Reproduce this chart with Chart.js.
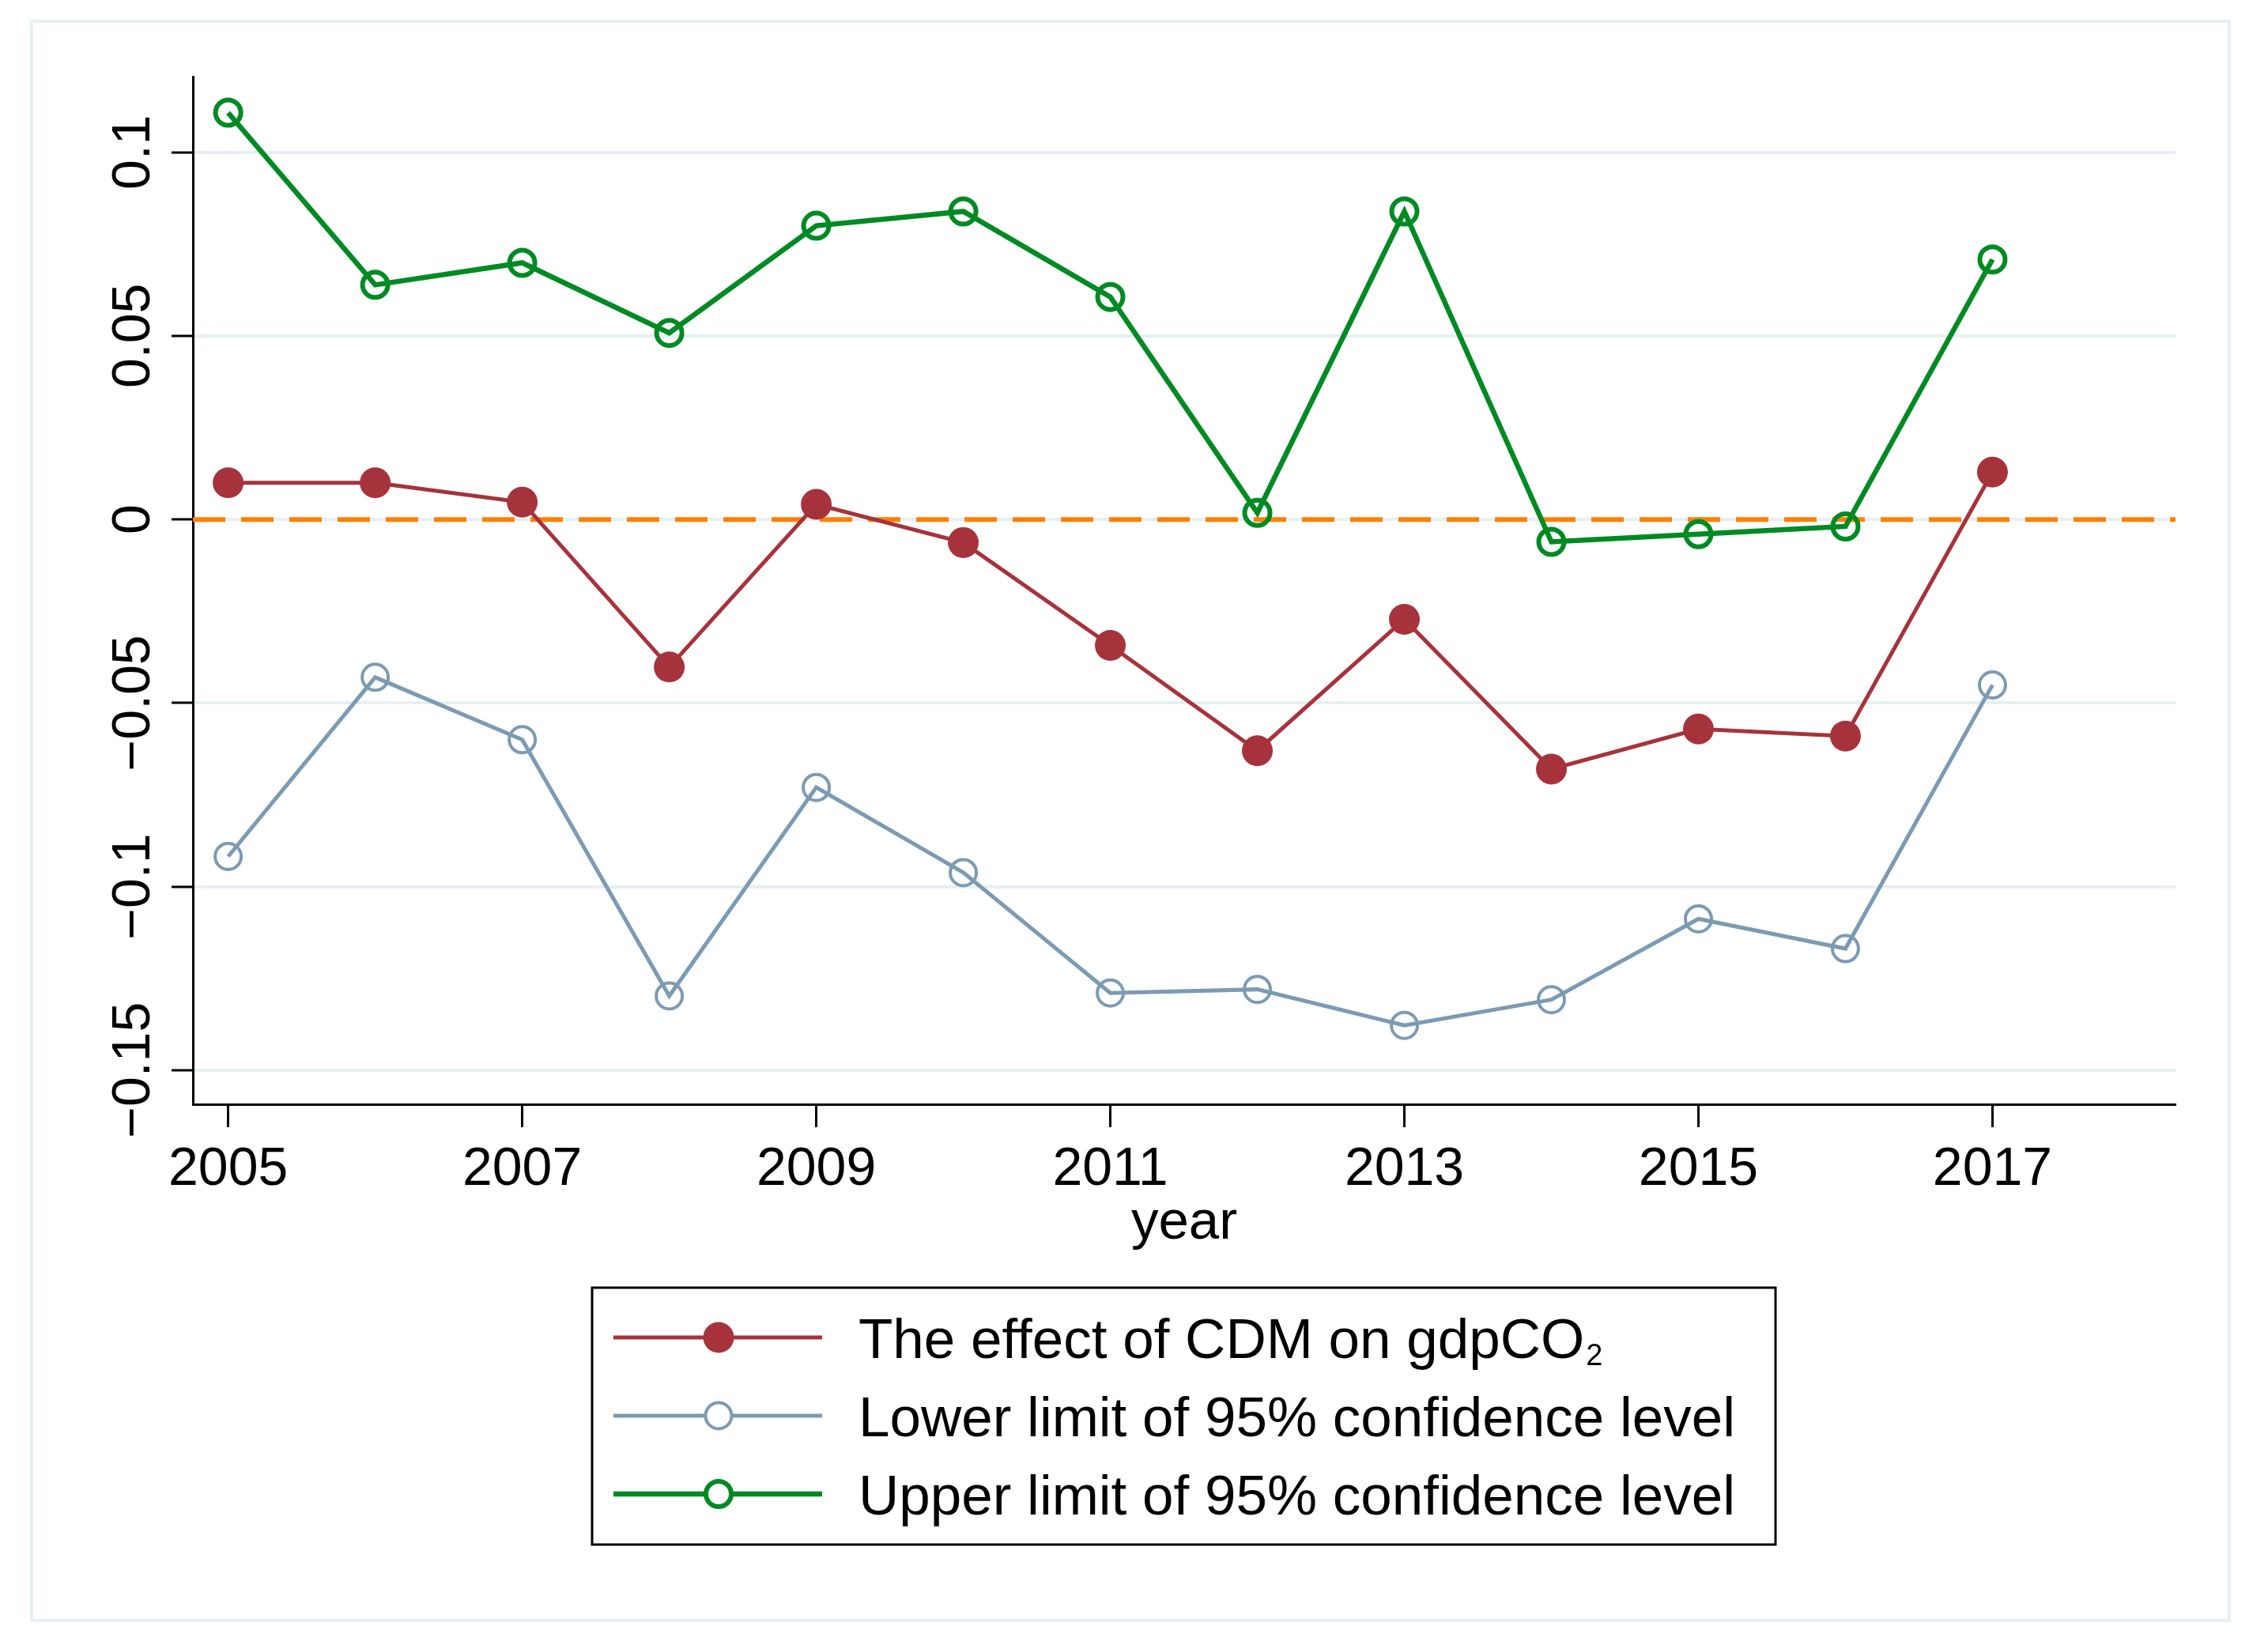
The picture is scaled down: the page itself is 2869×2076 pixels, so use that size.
<!DOCTYPE html>
<html><head><meta charset="utf-8">
<script src="https://cdn.jsdelivr.net/npm/chart.js@4.4.1/dist/chart.umd.min.js"></script>
<style>html,body{margin:0;padding:0;background:#fff;}canvas{display:block;}</style>
</head><body>
<canvas id="c" width="2869" height="2076"></canvas>
<script>
const years = [2005,2006,2007,2008,2009,2010,2011,2012,2013,2014,2015,2016,2017];
const effect = [0.0100,0.0100,0.0047,-0.0402,0.0041,-0.0063,-0.0343,-0.0630,-0.0272,-0.0680,-0.0571,-0.0590,0.0129];
const lower  = [-0.0918,-0.0430,-0.0600,-0.1298,-0.0730,-0.0962,-0.1290,-0.1280,-0.1378,-0.1308,-0.1088,-0.1169,-0.0451];
const upper  = [0.1108,0.0639,0.0699,0.0508,0.0800,0.0839,0.0606,0.0018,0.0839,-0.0061,-0.0040,-0.0019,0.0708];
const xTicks = [2005,2007,2009,2011,2013,2015,2017];
const yTicks = [-0.15,-0.1,-0.05,0,0.05,0.1];
const yTickLabels = ['\u22120.15','\u22120.1','\u22120.05','0','0.05','0.1'];
const xRange = [2004.76, 2018.245];
const yRange = [-0.1593, 0.1206];
const refValue = 0;
const seriesLabels = ['The effect of CDM on gdpCO\u2082','Lower limit of 95% confidence level','Upper limit of 95% confidence level'];
const xTitle = 'year';

const FONT = '"Liberation Sans", Arial, sans-serif';
const pts = arr => years.map((y,i)=>({x:y, y:arr[i]}));

const decor = {
  id:'decor',
  beforeDraw(chart){
    const ctx = chart.ctx;
    ctx.save();
    ctx.fillStyle='#fff';
    ctx.fillRect(0,0,chart.width,chart.height);
    ctx.strokeStyle='#e6eff2';
    ctx.lineWidth=4;
    ctx.strokeRect(40,27,2780,2023);
    ctx.restore();
  },
  afterDraw(chart){
    const ctx = chart.ctx;
    const ys = chart.scales.y;
    ctx.save();
    ctx.fillStyle='#000';
    ctx.font = '68px '+FONT;
    ctx.textAlign='center';
    ctx.textBaseline='alphabetic';
    yTicks.forEach((v,i)=>{
      const py = ys.getPixelForValue(v);
      ctx.save();
      ctx.translate(189, py);
      ctx.rotate(-Math.PI/2);
      ctx.fillText(yTickLabels[i],0,0);
      ctx.restore();
    });
    // legend
    ctx.strokeStyle='#000';
    ctx.lineWidth=3;
    ctx.strokeRect(749,1629,1497,325);
    for(let i=0;i<3;i++){
      const ds = chart.data.datasets[i];
      const ry = 1692 + i*99;
      ctx.strokeStyle = ds.borderColor;
      ctx.lineWidth = ds.borderWidth;
      ctx.beginPath(); ctx.moveTo(776,ry); ctx.lineTo(1040,ry); ctx.stroke();
      ctx.beginPath(); ctx.arc(909,ry,ds.pointRadius,0,Math.PI*2);
      if(ds.pointBorderWidth>0){
        ctx.fillStyle='#fff'; ctx.fill();
        ctx.lineWidth=ds.pointBorderWidth; ctx.strokeStyle=ds.pointBorderColor; ctx.stroke();
      } else {
        ctx.fillStyle=ds.pointBackgroundColor; ctx.fill();
      }
      let label = ds.label;
      ctx.fillStyle='#000';
      ctx.textAlign='left';
      ctx.font='71px '+FONT;
      if(label.endsWith('\u2082')){
        const main = label.slice(0,-1);
        ctx.fillText(main,1086,ry+26);
        const w = ctx.measureText(main).width;
        ctx.font='38px '+FONT;
        ctx.fillText('2',1086+w+2,ry+35);
      } else {
        ctx.fillText(label,1086,ry+26);
      }
    }
    ctx.restore();
  }
};

new Chart(document.getElementById('c'),{
  type:'line',
  data:{datasets:[
    {label:seriesLabels[0], data:pts(effect), borderColor:'#a6333b', backgroundColor:'#a6333b',
     pointBackgroundColor:'#a6333b', pointBorderColor:'#a6333b', pointBorderWidth:0, pointRadius:19.5, borderWidth:5},
    {label:seriesLabels[1], data:pts(lower), borderColor:'#7b9bb3', backgroundColor:'#7b9bb3',
     pointBackgroundColor:'rgba(0,0,0,0)', pointBorderColor:'#7b9bb3', pointBorderWidth:4, pointRadius:16.5, borderWidth:5},
    {label:seriesLabels[2], data:pts(upper), borderColor:'#008a23', backgroundColor:'#008a23',
     pointBackgroundColor:'rgba(0,0,0,0)', pointBorderColor:'#008a23', pointBorderWidth:6, pointRadius:16, borderWidth:6.5},
    {label:'ref', data:[{x:xRange[0],y:refValue},{x:xRange[1],y:refValue}], borderColor:'#ff8000',
     borderWidth:6, borderDash:[41,20], pointRadius:0}
  ]},
  options:{
    responsive:false, animation:false, devicePixelRatio:1,
    layout:{padding:{left:0,right:117,top:97,bottom:479}},
    plugins:{legend:{display:false}, tooltip:{enabled:false}},
    elements:{line:{tension:0}},
    scales:{
      x:{type:'linear', position:'bottom', min:xRange[0], max:xRange[1],
        afterBuildTicks:s=>{s.ticks = xTicks.map(v=>({value:v}));},
        afterFit:s=>{s.height=200;},
        ticks:{color:'#000', font:{family:FONT,size:68}, padding:13, autoSkip:false, maxRotation:0, minRotation:0,
          callback:v=>String(v)},
        grid:{drawOnChartArea:false, drawTicks:true, tickLength:29, tickColor:'#000', tickWidth:3},
        border:{display:true, color:'#000', width:3},
        title:{display:true, text:xTitle, color:'#000', font:{family:FONT,size:69}, padding:{top:0,bottom:8}}
      },
      y:{type:'linear', position:'left', min:yRange[0], max:yRange[1],
        afterBuildTicks:s=>{s.ticks = yTicks.map(v=>({value:v}));},
        afterFit:s=>{s.width=244;},
        ticks:{display:false},
        grid:{color:'#e6eff1', lineWidth:4, drawTicks:true, tickLength:27, tickColor:'#000', tickWidth:3},
        border:{display:true, color:'#000', width:3}
      }
    }
  },
  plugins:[decor]
});
</script>
</body></html>
